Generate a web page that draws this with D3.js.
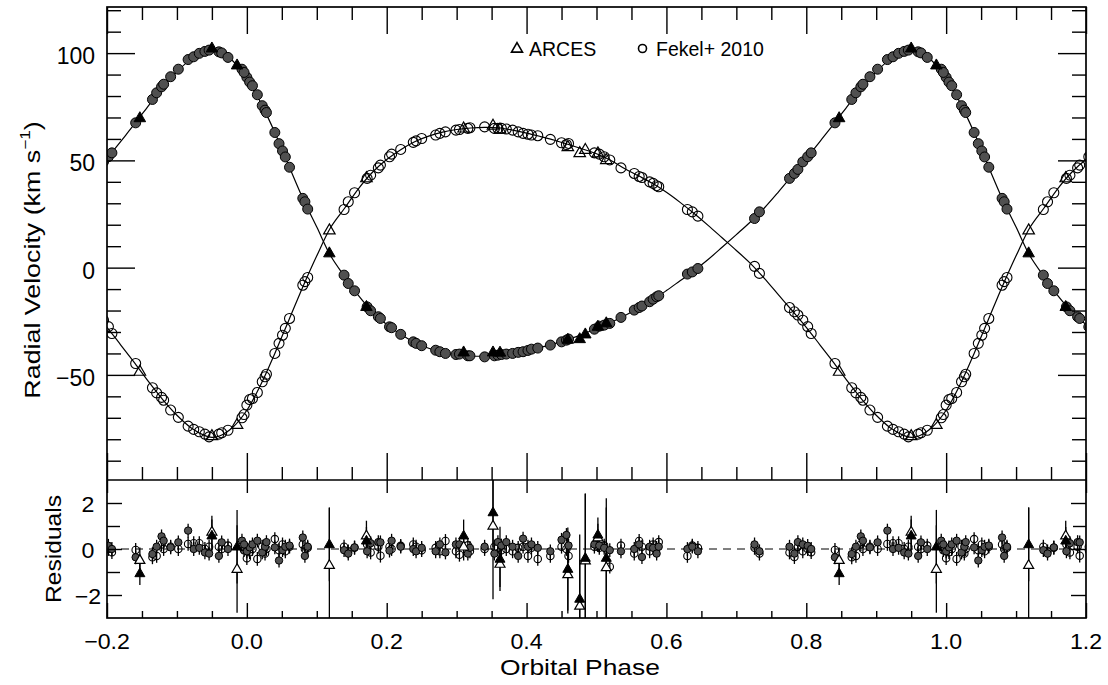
<!DOCTYPE html>
<html><head><meta charset="utf-8">
<script src="https://cdn.jsdelivr.net/npm/d3@7"></script>
<style>
body{margin:0;background:#fff}
svg{display:block}
text{font-family:"Liberation Sans",Arial,Helvetica,sans-serif;fill:#000}
</style>
</head><body><svg id="c" width="1108" height="685"></svg>
<script>
// ---------------- data ----------------
const fekelPhase = [0.000,0.004,0.008,0.015,0.022,0.026,0.028,0.040,0.046,0.051,0.055,0.061,0.080,0.083,0.087,
  0.139,0.145,0.154,0.172,0.177,0.188,0.191,0.204,0.207,0.220,0.238,0.242,0.250,0.270,0.276,0.284,0.299,0.304,
  0.316,0.319,0.340,0.354,0.359,0.364,0.371,0.380,0.388,0.395,0.402,0.407,0.416,0.434,0.450,0.457,0.460,
  0.497,0.504,0.511,0.519,0.535,0.554,0.561,0.565,0.576,0.581,0.586,0.589,0.630,0.637,0.645,0.726,0.733,
  0.776,0.783,0.788,0.795,0.802,0.807,0.841,0.865,0.871,0.878,0.881,0.891,0.902,0.916,0.924,0.932,0.940,
  0.946,0.960,0.964,0.973,0.993,0.996];
const fekelPrimRV = [88.7,86.5,84.8,80.6,75.5,73.4,72.3,63.0,57.8,54.4,51.6,46.8,32.3,30.7,27.3,
  -3.5,-7.4,-10.8,-18.3,-20.1,-22.9,-23.7,-27.6,-28.0,-31.1,-34.6,-35.3,-36.4,-38.5,-39.2,-40.0,-40.5,-40.3,
  -41.1,-41.1,-41.6,-41.1,-40.8,-40.5,-40.3,-40.0,-39.5,-39.2,-38.6,-38.0,-37.5,-36.1,-34.6,-33.8,-33.3,
  -28.7,-27.3,-26.8,-26.0,-23.2,-19.8,-18.6,-17.9,-15.9,-14.7,-13.6,-13.1,-3.0,-2.0,-0.4,22.9,26.0,
  41.6,43.9,45.8,49.3,51.7,53.5,67.5,78.4,81.5,84.3,85.5,89.0,92.5,97.0,98.3,99.9,100.8,
  101.4,100.6,100.1,98.0,92.5,91.0];
const fekelSecRV = [-64.1,-61.5,-61.0,-58.2,-53.2,-50.9,-49.7,-40.0,-35.3,-31.5,-28.3,-23.7,-8.2,-6.5,-4.6,
  27.1,30.7,34.9,41.6,43.1,46.5,47.8,51.7,52.9,55.1,58.4,59.1,60.2,61.8,62.6,63.3,64.1,64.4,
  64.9,65.2,65.6,64.9,64.9,64.9,64.6,64.1,63.3,62.6,62.2,61.8,61.5,59.8,58.2,57.4,57.9,
  53.5,52.9,51.7,50.2,46.5,43.9,42.5,42.0,40.0,39.3,38.2,37.7,27.1,26.0,24.0,0.6,-2.7,
  -18.6,-20.6,-22.1,-24.5,-27.5,-30.7,-44.7,-56.0,-58.4,-60.5,-61.8,-66.4,-69.8,-73.9,-75.4,-76.5,-77.6,
  -78.9,-77.6,-77.0,-75.8,-70.0,-68.5];
const fekelPrimRes = [-0.10,0.07,0.20,0.36,-0.15,0.10,0.30,0.07,-0.50,-0.05,0.10,0.15,0.50,-0.30,0.10,
  -0.05,-0.20,0.07,-0.10,0.25,0.30,0.29,-0.07,0.36,0.10,0.00,-0.10,0.05,-0.10,0.20,-0.15,0.20,0.20,
  -0.20,0.05,0.10,-0.20,0.30,0.15,0.30,0.10,-0.30,0.45,0.10,0.20,0.05,-0.10,0.40,0.61,0.15,
  0.20,0.15,0.05,-0.05,-0.10,0.00,0.20,-0.35,0.10,0.05,-0.20,0.10,0.00,0.10,-0.10,0.20,-0.10,
  0.10,-0.20,0.30,0.20,0.14,0.00,-0.36,-0.22,0.10,0.55,0.36,0.07,0.29,0.80,0.00,0.05,-0.15,
  -0.20,-0.30,0.29,0.00,0.36,0.20];
const fekelSecRes = [-0.40,-0.14,0.00,-0.43,0.10,-0.20,0.00,0.43,-0.05,0.20,-0.10,0.10,0.20,0.00,0.05,
  0.10,-0.10,0.05,0.20,-0.15,0.10,-0.29,0.10,0.00,0.14,0.20,0.10,-0.05,0.05,-0.10,0.35,-0.10,-0.25,
  0.16,-0.10,0.00,0.10,0.05,-0.05,0.00,-0.10,0.05,0.10,-0.30,0.05,-0.43,-0.30,0.10,0.00,-0.30,
  0.10,0.05,0.15,-0.77,0.15,-0.20,0.35,0.10,-0.10,0.20,0.05,0.30,-0.30,0.15,0.05,0.05,-0.20,
  -0.15,-0.35,0.10,-0.10,0.00,-0.14,-0.04,-0.36,-0.30,0.20,0.00,0.10,0.00,0.22,0.25,0.25,0.00,
  0.10,0.10,0.00,0.15,0.10,-0.05];
const fekelErr = 0.3;

const arcesPhase   = [0.118,0.171,0.310,0.352,0.362,0.459,0.476,0.484,0.502,0.514,0.847,0.950,0.986];
const arcesPrimRV  = [6.8,-18.2,-39.4,-39.4,-39.5,-33.5,-33.2,-31.0,-27.4,-25.8,69.8,102.3,94.4];
const arcesSecRV   = [17.5,41.8,65.0,66.3,64.5,56.3,53.5,55.0,53.4,50.3,-48.4,-78.4,-73.2];
const arcesPrimRes = [0.20,0.36,0.58,1.59,-0.43,-0.87,-2.17,-0.39,0.62,-0.39,-1.06,0.58,0.10];
const arcesPrimErr = [1.60,0.60,0.70,1.50,1.40,1.80,2.80,2.80,0.75,2.60,0.50,0.70,1.60];
const arcesSecRes  = [-0.70,0.58,0.10,1.01,-0.65,-1.10,-2.47,-0.50,0.50,-0.80,-0.48,0.75,-0.87];
const arcesSecErr  = [2.50,0.65,0.60,3.20,1.00,1.70,2.00,2.90,0.60,2.60,0.55,0.70,1.90];

// orbit model curves, sampled off the figure
const modelPhase = [0.00,0.02,0.04,0.06,0.08,0.10,0.12,0.14,0.16,0.18,0.20,0.22,0.24,0.26,0.28,0.30,0.32,0.34,
  0.36,0.38,0.40,0.42,0.44,0.46,0.48,0.50,0.52,0.54,0.56,0.58,0.60,0.62,0.64,0.66,0.68,0.70,0.72,0.74,0.76,
  0.78,0.80,0.82,0.84,0.86,0.88,0.90,0.92,0.94,0.95,0.96,0.98];
const modelPrim = [88.6,76.8,63.0,47.5,32.3,18.9,5.4,-4.2,-13.2,-20.7,-26.5,-31.1,-34.9,-37.6,-39.6,-40.7,-41.2,-41.3,
  -40.9,-40.1,-38.8,-37.2,-35.4,-33.4,-31.1,-28.3,-25.6,-22.4,-18.9,-15.1,-10.7,-6.0,-1.3,3.9,9.6,15.4,21.3,27.8,35.2,
  43.0,50.8,59.0,67.2,75.8,84.2,91.3,97.2,100.8,101.5,100.9,96.3];
const modelSec = [-66.5,-54.5,-40.0,-24.5,-9.0,5.5,18.8,27.8,37.0,44.6,50.4,55.0,58.7,61.3,63.2,64.4,65.1,65.4,
  65.2,64.1,62.7,61.1,59.4,57.4,55.3,53.1,50.1,46.2,42.8,39.3,35.1,30.3,25.1,19.6,13.8,8.0,2.0,-5.0,-12.6,
  -20.1,-27.8,-36.2,-44.6,-53.4,-61.6,-68.8,-74.6,-78.3,-79.1,-78.6,-74.4];

const xMajor = [-0.2,0.0,0.2,0.4,0.6,0.8,1.0,1.2];
const xLabels = ["\u22120.2","0.0","0.2","0.4","0.6","0.8","1.0","1.2"];
const rvMajor = [-50,0,50,100];
const rvLabels = ["\u221250","0","50","100"];
const resMajor = [-2,0,2];
const resLabels = ["\u22122","0","2"];
const legendLabels = ["ARCES","Fekel+ 2010"];

// ---------------- layout ----------------
const L = 107, R = 1086, T = 7, M = 480, B = 618;
const svg = d3.select("#c");
const x = d3.scaleLinear().domain([-0.2,1.2]).range([L,R]);
const y = d3.scaleLinear().domain([-99,121.5]).range([M,T]);
const yr = d3.scaleLinear().domain([-3,3]).range([B,M]);

const xMinor = d3.range(-0.2,1.2001,0.05).map(v=>+v.toFixed(2)).filter(v=>!xMajor.some(m=>Math.abs(m-v)<1e-6));
const rvMinor = d3.range(-90,121,10).filter(v=>!rvMajor.includes(v));
const resMinor = [-1,1];

const defs = svg.append("defs");
defs.append("clipPath").attr("id","clipTop").append("rect").attr("x",L).attr("y",T).attr("width",R-L).attr("height",M-T);
defs.append("clipPath").attr("id","clipRes").append("rect").attr("x",L).attr("y",M).attr("width",R-L).attr("height",B-M);

function wraps(p){ return [p-1,p,p+1].filter(q=>q>=-0.215 && q<=1.215); }
function triPath(s){ const h=s*0.87; return `M0,${-h*0.62}L${s/2},${h*0.38}L${-s/2},${h*0.38}Z`; }

// ---------------- top panel ----------------
const topG = svg.append("g").attr("clip-path","url(#clipTop)");
function modelPts(vals){
  const pts=[];
  modelPhase.forEach((p,i)=>{ [-1,0,1].forEach(k=>pts.push([p+k,vals[i]])); });
  pts.sort((a,b)=>a[0]-b[0]);
  return pts.filter(d=>d[0]>=-0.3 && d[0]<=1.3);
}
const line = d3.line().x(d=>x(d[0])).y(d=>y(d[1])).curve(d3.curveCatmullRom.alpha(0.5));
[modelPrim, modelSec].forEach(vals=>{
  topG.append("path").attr("d",line(modelPts(vals))).attr("fill","none").attr("stroke","#000").attr("stroke-width",1.2);
});

function expand(phases, vals){
  const out=[];
  phases.forEach((p,i)=>wraps(p).forEach(q=>out.push({p:q,v:vals[i],i})));
  return out;
}
topG.selectAll(null).data(expand(fekelPhase,fekelSecRV)).join("circle")
  .attr("cx",d=>x(d.p)).attr("cy",d=>y(d.v)).attr("r",5)
  .attr("fill","none").attr("stroke","#000").attr("stroke-width",1.1);
topG.selectAll(null).data(expand(fekelPhase,fekelPrimRV)).join("circle")
  .attr("cx",d=>x(d.p)).attr("cy",d=>y(d.v)).attr("r",5)
  .attr("fill","#505050").attr("stroke","#000").attr("stroke-width",1);
topG.selectAll(null).data(expand(arcesPhase,arcesSecRV)).join("path")
  .attr("transform",d=>`translate(${x(d.p)},${y(d.v)})`).attr("d",triPath(11.5))
  .attr("fill","none").attr("stroke","#000").attr("stroke-width",1.2);
topG.selectAll(null).data(expand(arcesPhase,arcesPrimRV)).join("path")
  .attr("transform",d=>`translate(${x(d.p)},${y(d.v)})`).attr("d",triPath(11.5))
  .attr("fill","#000").attr("stroke","#000").attr("stroke-width",1);

// ---------------- residual panel ----------------
const resG = svg.append("g").attr("clip-path","url(#clipRes)");
resG.append("line").attr("x1",L).attr("x2",R).attr("y1",yr(0)).attr("y2",yr(0))
  .attr("stroke","#000").attr("stroke-width",1).attr("stroke-dasharray","8,6");

function errbars(g, phases, vals, errs){
  g.selectAll(null).data(expand(phases,vals)).join("line")
    .attr("x1",d=>x(d.p)).attr("x2",d=>x(d.p))
    .attr("y1",d=>yr(d.v-(Array.isArray(errs)?errs[d.i]:errs)))
    .attr("y2",d=>yr(d.v+(Array.isArray(errs)?errs[d.i]:errs)))
    .attr("stroke","#000").attr("stroke-width",1.3);
}
errbars(resG, fekelPhase, fekelSecRes, fekelErr);
errbars(resG, fekelPhase, fekelPrimRes, fekelErr);
errbars(resG, arcesPhase, arcesSecRes, arcesSecErr);
errbars(resG, arcesPhase, arcesPrimRes, arcesPrimErr);

resG.selectAll(null).data(expand(fekelPhase,fekelSecRes)).join("circle")
  .attr("cx",d=>x(d.p)).attr("cy",d=>yr(d.v)).attr("r",3.7)
  .attr("fill","none").attr("stroke","#000").attr("stroke-width",1.1);
resG.selectAll(null).data(expand(fekelPhase,fekelPrimRes)).join("circle")
  .attr("cx",d=>x(d.p)).attr("cy",d=>yr(d.v)).attr("r",3.7)
  .attr("fill","#505050").attr("stroke","#000").attr("stroke-width",1);
resG.selectAll(null).data(expand(arcesPhase,arcesSecRes)).join("path")
  .attr("transform",d=>`translate(${x(d.p)},${yr(d.v)})`).attr("d",triPath(10))
  .attr("fill","#fff").attr("stroke","#000").attr("stroke-width",1.2);
resG.selectAll(null).data(expand(arcesPhase,arcesPrimRes)).join("path")
  .attr("transform",d=>`translate(${x(d.p)},${yr(d.v)})`).attr("d",triPath(10))
  .attr("fill","#000").attr("stroke","#000");

// ---------------- axes / ticks ----------------
function tickAxis(gen, scale, vals, size, tx, ty){
  const g = svg.append("g").attr("transform",`translate(${tx},${ty})`)
    .call(gen(scale).tickValues(vals).tickSize(size).tickFormat(()=>""));
  g.select(".domain").remove();
  g.selectAll("line").attr("stroke","#000").attr("stroke-width",1.4);
}
tickAxis(d3.axisBottom, x, xMajor, 27, 0, T);
tickAxis(d3.axisBottom, x, xMinor, 13, 0, T);
tickAxis(d3.axisTop, x, xMajor, 27, 0, M);
tickAxis(d3.axisTop, x, xMinor, 13, 0, M);
tickAxis(d3.axisRight, y, rvMajor, 28, L, 0);
tickAxis(d3.axisRight, y, rvMinor, 14, L, 0);
tickAxis(d3.axisLeft, y, rvMajor, 28, R, 0);
tickAxis(d3.axisLeft, y, rvMinor, 14, R, 0);
tickAxis(d3.axisBottom, x, xMajor, 13, 0, M);
tickAxis(d3.axisTop, x, xMajor, 15, 0, B);
tickAxis(d3.axisTop, x, xMinor, 7, 0, B);
tickAxis(d3.axisRight, yr, resMajor, 15, L, 0);
tickAxis(d3.axisRight, yr, resMinor, 13, L, 0);
tickAxis(d3.axisLeft, yr, resMajor, 15, R, 0);
tickAxis(d3.axisLeft, yr, resMinor, 13, R, 0);

svg.append("rect").attr("x",L).attr("y",T).attr("width",R-L).attr("height",B-T)
  .attr("fill","none").attr("stroke","#000").attr("stroke-width",1.7);
svg.append("line").attr("x1",L).attr("x2",R).attr("y1",M).attr("y2",M).attr("stroke","#000").attr("stroke-width",1.7);

// ---------------- text ----------------
function stext(tx, ty, str, size, anchor, sx, rot){
  return svg.append("text")
    .attr("transform",`translate(${tx},${ty}) rotate(${rot||0}) scale(${sx},1)`)
    .attr("text-anchor",anchor).attr("font-size",size).text(str);
}
xMajor.forEach((v,i)=>stext(x(v), 649, xLabels[i], 22.5, "middle", 1.03));
rvMajor.forEach((v,i)=>stext(95, y(v)+11, rvLabels[i], 23, "end", 1.0));
resMajor.forEach((v,i)=>stext(88, yr(v)+8.5, resLabels[i], 22.5, "middle", 1.03));

stext(580, 675, "Orbital Phase", 22, "middle", 1.2);
stext(61, (M+B)/2, "Residuals", 22, "middle", 1.12, -90);
const yt = stext(40, 260, "", 22, "middle", 1.22, -90);
yt.append("tspan").text("Radial Velocity (km s");
yt.append("tspan").attr("dy",-10).attr("font-size",14).text("\u22121");
yt.append("tspan").attr("dy",10).text(")");

svg.append("path").attr("transform",`translate(517,48.5)`).attr("d",triPath(11))
  .attr("fill","none").attr("stroke","#000").attr("stroke-width",1.6);
svg.append("text").attr("x",529).attr("y",56).attr("font-size",19.5).text(legendLabels[0]);
svg.append("circle").attr("cx",642.5).attr("cy",48.5).attr("r",4)
  .attr("fill","none").attr("stroke","#000").attr("stroke-width",1.6);
svg.append("text").attr("x",656).attr("y",56).attr("font-size",19.5).text(legendLabels[1]);
</script>
</body></html>
